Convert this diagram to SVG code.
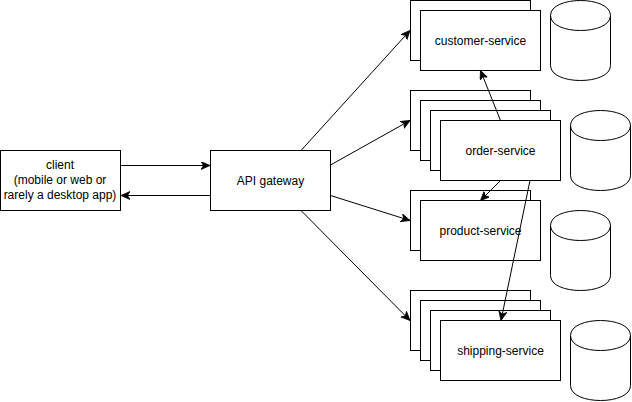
<svg xmlns="http://www.w3.org/2000/svg" width="632" height="402" viewBox="0 0 632 402">
<style>
.box{fill:#fff;stroke:#000;stroke-width:1}
.cyl{fill:#fff;stroke:#000;stroke-width:1}
.lbl{font-family:"Liberation Sans",Arial,Helvetica,sans-serif;font-size:12px;fill:#000;text-anchor:middle}
.edge{fill:none;stroke:#000;stroke-width:1;marker-end:url(#arr)}
</style>
<defs>
<marker id="arr" markerUnits="userSpaceOnUse" markerWidth="12" markerHeight="10" refX="9" refY="4" orient="auto">
<path d="M0,0 L9,4 L0,8 L2.5,4 Z" fill="#000" stroke="#000" stroke-width="0.8"/>
</marker>
<path id="cylshape" d="M0,15 C0,-5 60,-5 60,15 L60,65 C60,85 0,85 0,65 Z M0,15 C0,35 60,35 60,15" />
</defs>
<rect width="632" height="402" fill="#fff"/>

<g id="client">
<rect class="box" x="0.5" y="150.5" width="120" height="60"/>
<text class="lbl" x="60" y="169">client</text>
<text class="lbl" x="60" y="184">(mobile or web or</text>
<text class="lbl" x="60" y="199">rarely a desktop app)</text>
</g>

<g id="api-gateway">
<rect class="box" x="210.5" y="150.5" width="120" height="60"/>
<text class="lbl" x="270.5" y="184.5">API gateway</text>
</g>

<g id="customer-service">
<rect class="box" x="410.5" y="0.5" width="120" height="60"/>
<rect class="box" x="420.5" y="10.5" width="120" height="60"/>
<text class="lbl" x="480.5" y="44.5">customer-service</text>
</g>

<g id="order-service">
<rect class="box" x="410.5" y="90.5" width="120" height="60"/>
<rect class="box" x="420.5" y="100.5" width="120" height="60"/>
<rect class="box" x="430.5" y="110.5" width="120" height="60"/>
<rect class="box" x="440.5" y="120.5" width="120" height="60"/>
<text class="lbl" x="500.5" y="154.5">order-service</text>
</g>

<g id="product-service">
<rect class="box" x="410.5" y="190.5" width="120" height="60"/>
<rect class="box" x="420.5" y="200.5" width="120" height="60"/>
<text class="lbl" x="480.5" y="234.5">product-service</text>
</g>

<g id="shipping-service">
<rect class="box" x="410.5" y="290.5" width="120" height="60"/>
<rect class="box" x="420.5" y="300.5" width="120" height="60"/>
<rect class="box" x="430.5" y="310.5" width="120" height="60"/>
<rect class="box" x="440.5" y="320.5" width="120" height="60"/>
<text class="lbl" x="500.5" y="354.5">shipping-service</text>
</g>

<g id="customer-db"><use href="#cylshape" class="cyl" x="550.5" y="0.5"/></g>
<g id="order-db"><use href="#cylshape" class="cyl" x="570.5" y="110.5"/></g>
<g id="product-db"><use href="#cylshape" class="cyl" x="550.5" y="210.5"/></g>
<g id="shipping-db"><use href="#cylshape" class="cyl" x="570.5" y="320.5"/></g>

<g id="connectors">
<path class="edge" d="M120.5,165.5 L210,165.5"/>
<path class="edge" d="M210.5,195.5 L121,195.5"/>
<path class="edge" d="M301,150.5 L410,30.5"/>
<path class="edge" d="M330.5,165 L410,120.5"/>
<path class="edge" d="M330.5,195.5 L410,220.5"/>
<path class="edge" d="M301,210.5 L410,320.5"/>
<path class="edge" d="M500.5,120.5 L480.5,70.5"/>
<path class="edge" d="M500.5,180.5 L480.5,200.5"/>
<path class="edge" d="M530,180.5 L501,320.5"/>
</g>
</svg>
